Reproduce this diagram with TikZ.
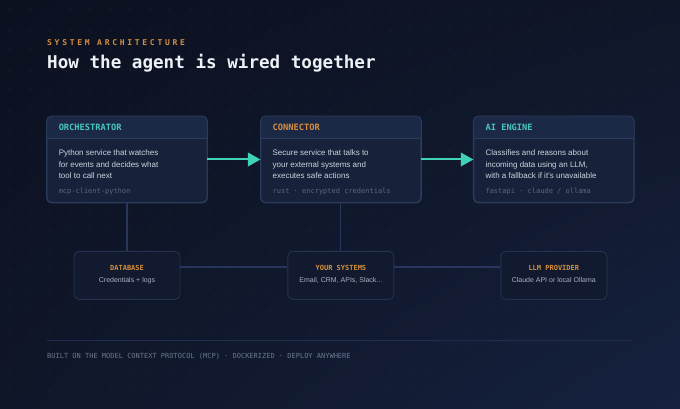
\documentclass[tikz,border=0pt]{standalone}
\usepackage{fontspec}
\setmainfont{Liberation Sans}
\setmonofont{DejaVu Sans Mono}
\newfontfamily\trackedmono[LetterSpace=34]{DejaVu Sans Mono}
\usepackage{xcolor}
\definecolor{bgA}{HTML}{0C1120}
\definecolor{bgM}{HTML}{0F1628}
\definecolor{bgB}{HTML}{15213F}
\definecolor{dotc}{HTML}{1C253C}
\definecolor{cardfill}{HTML}{172139}
\definecolor{headfill}{HTML}{1C2946}
\definecolor{cardline}{HTML}{2B3B5C}
\definecolor{minifill}{HTML}{111A2E}
\definecolor{miniline}{HTML}{24324F}
\definecolor{wirec}{HTML}{27365A}
\definecolor{tealtxt}{HTML}{47C6BE}
\definecolor{tealarr}{HTML}{3FD2B8}
\definecolor{amber}{HTML}{D68E3E}
\definecolor{bodytxt}{HTML}{CDD3DE}
\definecolor{bodytxt2}{HTML}{A9B2C2}
\definecolor{muted}{HTML}{5C687E}
\definecolor{foot}{HTML}{6C788E}
\definecolor{titletxt}{HTML}{EEF1F6}
\usetikzlibrary{positioning,arrows.meta,shadings}

\begin{document}
\begin{tikzpicture}[x=1pt,y=-1pt,
  card/.style={draw=cardline,fill=cardfill,rounded corners=5pt,line width=0.9pt,
    minimum width=160pt,minimum height=86pt,inner sep=0pt},
  minicard/.style={draw=miniline,fill=minifill,rounded corners=5pt,line width=0.9pt,
    minimum width=106pt,minimum height=48pt,inner sep=0pt},
  head/.style={font=\ttfamily\bfseries\fontsize{8.7}{10}\selectfont,anchor=base west,inner sep=0pt},
  body/.style={font=\fontsize{8}{11.5}\selectfont,text=bodytxt,align=left,anchor=base west,inner sep=0pt},
  tag/.style={font=\ttfamily\fontsize{7}{8}\selectfont,text=muted,anchor=base west,inner sep=0pt},
  minihead/.style={font=\ttfamily\bfseries\fontsize{7}{8}\selectfont,text=amber,anchor=base,inner sep=0pt},
  minibody/.style={font=\fontsize{7}{8}\selectfont,text=bodytxt2,anchor=base,inner sep=0pt},
  arr/.style={-{Triangle[length=12.5pt,width=13.5pt]},line width=2pt,color=tealarr},
  wire/.style={line width=1.1pt,color=wirec}]
\useasboundingbox (0,0) rectangle (680,409);
% background and dot grid
\shade[upper left=bgA,upper right=bgM,lower left=bgM,lower right=bgB] (0,0) rectangle (680,409);
\foreach \i in {0,...,33} \foreach \j in {0,...,20}
  \fill[dotc] (\i*20+10,\j*20+10) circle (0.8);
% heading
\node[anchor=base west,inner sep=0pt,text=amber,font=\trackedmono\bfseries\fontsize{8}{10}\selectfont] (kicker) at (47,46) {SYSTEM ARCHITECTURE};
\node[anchor=base west,inner sep=0pt,text=titletxt,font=\ttfamily\bfseries\fontsize{17.6}{20}\selectfont] (title) at (47,69) {How the agent is wired together};
% top row
\node[card] (orch) at (127,159.5) {};
\node[card,right=53pt of orch] (conn) {};
\node[card,right=52pt of conn] (engine) {};
\foreach \n in {orch,conn,engine}{
  \begin{scope}
    \clip[rounded corners=5pt] (\n.south west) rectangle (\n.north east);
    \fill[headfill] (\n.north west) rectangle ([yshift=-22.5pt]\n.north east);
  \end{scope}
  \draw[cardline,line width=0.9pt] ([yshift=-22.5pt]\n.north west) -- ([yshift=-22.5pt]\n.north east);
  \draw[cardline,line width=0.9pt,rounded corners=5pt] (\n.south west) rectangle (\n.north east);
}
\node[head,text=tealtxt] (orchhead) at ([xshift=12pt,yshift=-14pt]orch.north west) {ORCHESTRATOR};
\node[body] (orchbody) at ([xshift=12pt,yshift=-62.5pt]orch.north west) {Python service that watches\\for events and decides what\\tool to call next};
\node[tag] (orchtag) at ([xshift=12pt,yshift=-77pt]orch.north west) {mcp-client-python};
\node[head,text=amber] (connhead) at ([xshift=12pt,yshift=-14pt]conn.north west) {CONNECTOR};
\node[body] (connbody) at ([xshift=12pt,yshift=-62.5pt]conn.north west) {Secure service that talks to\\your external systems and\\executes safe actions};
\node[tag] (conntag) at ([xshift=12pt,yshift=-77pt]conn.north west) {rust · encrypted credentials};
\node[head,text=tealtxt] (enginehead) at ([xshift=12pt,yshift=-14pt]engine.north west) {AI ENGINE};
\node[body] (enginebody) at ([xshift=12pt,yshift=-62.5pt]engine.north west) {Classifies and reasons about\\incoming data using an LLM,\\with a fallback if it's unavailable};
\node[tag] (enginetag) at ([xshift=12pt,yshift=-77pt]engine.north west) {fastapi · claude / ollama};
% bottom row
\node[minicard,below=48pt of orch] (db) {};
\node[minicard,below=48pt of conn] (sys) {};
\node[minicard,below=48pt of engine] (llm) {};
\node[minihead] (dbhead) at ([yshift=-20pt]db.north) {DATABASE};
\node[minibody] (dbbody) at ([yshift=-32pt]db.north) {Credentials + logs};
\node[minihead] (syshead) at ([yshift=-20pt]sys.north) {YOUR SYSTEMS};
\node[minibody] (sysbody) at ([yshift=-32pt]sys.north) {Email, CRM, APIs, Slack...};
\node[minihead] (llmhead) at ([yshift=-20pt]llm.north) {LLM PROVIDER};
\node[minibody] (llmbody) at ([yshift=-32pt]llm.north) {Claude API or local Ollama};
% connectors
\draw[arr] (orch) -- (conn);
\draw[arr] (conn) -- (engine);
\draw[wire] (orch) -- (db);
\draw[wire] (conn) -- (sys);
\draw[wire] ([yshift=-16pt]db.north east) -- ([yshift=-16pt]sys.north west);
\draw[wire] ([yshift=-16pt]sys.north east) -- ([yshift=-16pt]llm.north west);
% footer
\coordinate (ruleL) at (47,340);
\coordinate (ruleR) at (632,340);
\draw[wirec,line width=0.8pt,opacity=0.7] (ruleL) -- (ruleR);
\node[anchor=base west,inner sep=0pt,text=foot,font=\ttfamily\fontsize{7}{8}\selectfont] (footer) at (47,358.5) {BUILT ON THE MODEL CONTEXT PROTOCOL (MCP) · DOCKERIZED · DEPLOY ANYWHERE};
\end{tikzpicture}
\end{document}
